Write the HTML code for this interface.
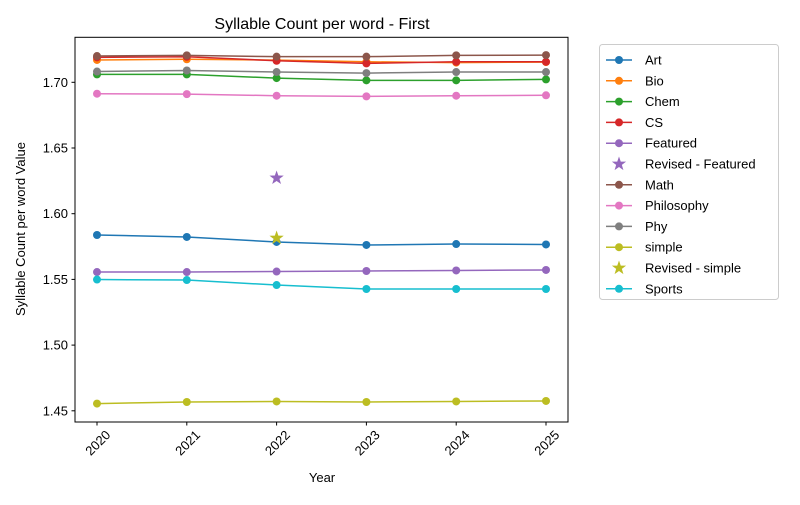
<!DOCTYPE html>
<html><head><meta charset="utf-8"><style>
body{margin:0;background:#fff;}
svg{font-family:"Liberation Sans","DejaVu Sans",sans-serif;}
</style></head><body>
<svg id="chart" width="800" height="500" viewBox="0 0 800 500" xmlns="http://www.w3.org/2000/svg">
<rect width="800" height="500" fill="#fff"/>
<text x="322" y="29" font-size="16" text-anchor="middle" fill="#000">Syllable Count per word - First</text>
<g id="plot"></g>
<rect x="75" y="37.3" width="493" height="384.7" fill="none" stroke="#000" stroke-width="1"/>
<text x="322" y="482" font-size="13" text-anchor="middle">Year</text>
<text x="25" y="229" font-size="13" text-anchor="middle" transform="rotate(-90 25 229)">Syllable Count per word Value</text>
<g id="legend"></g>
</svg>
<script>
const years=[2020,2021,2022,2023,2024,2025];
const yTicks=[1.45,1.50,1.55,1.60,1.65,1.70];
const seriesNames=["Art","Bio","Chem","CS","Featured","Math","Philosophy","Phy","simple","Sports"];
const artVals=[1.5838,1.5823,1.5785,1.5762,1.5769,1.5766];
const bioVals=[1.7170,1.7175,1.7169,1.7156,1.7150,1.7154];
const chemVals=[1.7060,1.7060,1.7032,1.7015,1.7015,1.7022];
const csVals=[1.7190,1.7194,1.7164,1.7144,1.7156,1.7156];
const featuredVals=[1.5556,1.5556,1.5560,1.5564,1.5568,1.5572];
const mathVals=[1.7200,1.7205,1.7195,1.7195,1.7205,1.7207];
const philVals=[1.6913,1.6910,1.6898,1.6893,1.6898,1.6901];
const phyVals=[1.7082,1.7090,1.7078,1.7070,1.7078,1.7078];
const simpleVals=[1.4555,1.4567,1.4571,1.4567,1.4571,1.4575];
const sportsVals=[1.5499,1.5495,1.5457,1.5427,1.5427,1.5427];
const revisedYears=[2022];
const revisedFeatured=[1.6272];
const revisedSimple=[1.5815];
const colors={Art:"#1f77b4",Bio:"#ff7f0e",Chem:"#2ca02c",CS:"#d62728",Featured:"#9467bd",Math:"#8c564b",Philosophy:"#e377c2",Phy:"#7f7f7f",simple:"#bcbd22",Sports:"#17becf"};
const valsMap={Art:artVals,Bio:bioVals,Chem:chemVals,CS:csVals,Featured:featuredVals,Math:mathVals,Philosophy:philVals,Phy:phyVals,simple:simpleVals,Sports:sportsVals};
const NS="http://www.w3.org/2000/svg";
function xs(v){return 97+(v-2020)*(546-97)/5;}
function ys(v){return 82.3+(1.70-v)*1314;}
function mk(tag,attrs,parent){const e=document.createElementNS(NS,tag);for(const k in attrs)e.setAttribute(k,attrs[k]);parent.appendChild(e);return e;}
function star(cx,cy,r){let p=[];for(let i=0;i<10;i++){const a=-Math.PI/2+i*Math.PI/5;const rr=i%2?r*0.4:r;p.push((cx+rr*Math.cos(a)).toFixed(2)+","+(cy+rr*Math.sin(a)).toFixed(2));}return p.join(" ");}
const plot=document.getElementById("plot");
const svg=document.getElementById("chart");
yTicks.forEach(t=>{
  const l=mk("line",{x1:71.5,x2:75,y1:ys(t),y2:ys(t),stroke:"#000"},svg);
  
  
  const tx=mk("text",{x:68,y:ys(t)+4.5,"font-size":13,"text-anchor":"end"},svg);
  tx.textContent=t.toFixed(2);
  
  
});
years.forEach(yr=>{
  const l=mk("line",{x1:xs(yr),x2:xs(yr),y1:422,y2:425.5,stroke:"#000"},svg);
  
  
  const tx=mk("text",{x:0,y:0,"font-size":13,"text-anchor":"middle",transform:`translate(${xs(yr)+4},${446}) rotate(-45)`},svg);
  tx.textContent=yr;
  
  
});
function drawSeries(name){
  const g=mk("g",{},plot);
  
  
  const vals=valsMap[name];
  const pts=vals.map((v,i)=>xs(years[i])+","+ys(v)).join(" ");
  mk("polyline",{points:pts,fill:"none",stroke:colors[name],"stroke-width":1.5},g);
  vals.forEach((v,i)=>{
    const c=mk("circle",{cx:xs(years[i]),cy:ys(v),r:4,fill:colors[name]},g);
    
    
  });
}
function drawStars(vals,color,name){
  vals.forEach((v,i)=>{
    const s=mk("polygon",{points:star(xs(revisedYears[i]),ys(v),7.5),fill:color},plot);
    
    
  });
}
["Art","Bio","Chem","CS","Featured"].forEach(drawSeries);
drawStars(revisedFeatured,colors.Featured,'revised-featured-star');
["Math","Philosophy","Phy","simple"].forEach(drawSeries);
drawStars(revisedSimple,colors.simple,'revised-simple-star');
drawSeries("Sports");
// legend
const leg=document.getElementById("legend");
const lb=mk("rect",{x:599.5,y:44.5,width:179,height:255,rx:3,fill:"#fff",stroke:"#ccc"},leg);


const entries=[["Art","line"],["Bio","line"],["Chem","line"],["CS","line"],["Featured","line"],["Revised - Featured","star","Featured"],["Math","line"],["Philosophy","line"],["Phy","line"],["simple","line"],["Revised - simple","star","simple"],["Sports","line"]];
entries.forEach((e,i)=>{
  const y=60+i*20.8;
  const g=mk("g",{},leg);
  
  
  const col=colors[e[2]||e[0]];
  if(e[1]==="line"){
    mk("line",{x1:606,x2:632,y1:y,y2:y,stroke:col,"stroke-width":1.5},g);
    mk("circle",{cx:619,cy:y,r:4,fill:col},g);
  } else {
    mk("polygon",{points:star(619,y,7.5),fill:col},g);
  }
  const t=mk("text",{x:645,y:y+4.5,"font-size":13},g);
  t.textContent=e[0];
});
</script>
</body></html>
